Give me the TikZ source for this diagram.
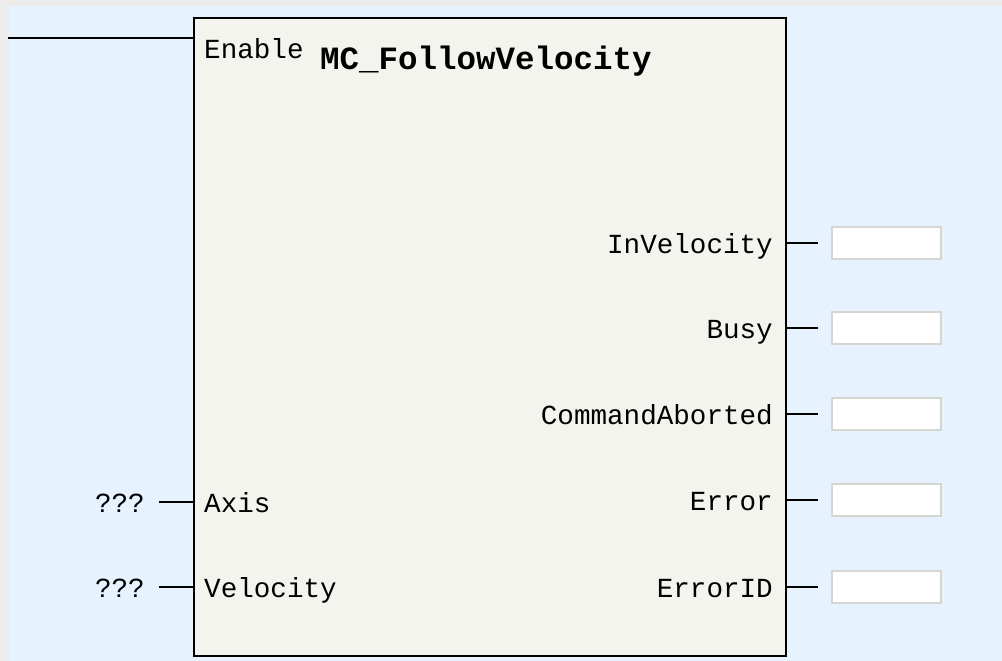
\documentclass[tikz,border=0pt]{standalone}
\usepackage{fontspec}
\setmonofont{Liberation Mono}
\usepackage{xcolor}
\usetikzlibrary{positioning}
\definecolor{panelblue}{RGB}{230,243,255}
\definecolor{blockfill}{RGB}{244,244,239}
\definecolor{framegray}{RGB}{236,236,236}
\definecolor{slotgray}{RGB}{214,214,208}

\begin{document}
\begin{tikzpicture}[x=1pt,y=-1pt,
  pinlabel/.style={font=\ttfamily\fontsize{27.6}{30}\selectfont,inner sep=0pt,text height=20pt,text depth=0pt},
  slot/.style={draw=slotgray,fill=white,line width=1.5pt,minimum width=109pt,minimum height=32pt,inner sep=0pt},
  wire/.style={line width=2pt}]
  \useasboundingbox (0,0) rectangle (1002,661);
  % panel
  \fill[framegray] (0,0) rectangle (1002,661);
  \fill[panelblue] (9,6) rectangle (1002,661);
  % function block
  \node[draw,line width=2.4pt,fill=blockfill,minimum width=592pt,minimum height=638pt,inner sep=0pt,anchor=north west] (fb) at (193,17) {};
  \node[font=\ttfamily\bfseries\fontsize{32.5}{34}\selectfont,anchor=base west,inner sep=0pt] (title) at (320,70) {MC\_FollowVelocity};
  % enable rail
  \node[pinlabel,anchor=north west] (en) at (204,38) {Enable};
  \coordinate (rail) at (8,38);
  \draw[wire] (rail) -- (fb.west |- rail);
  % inputs
  \foreach \name/\y [count=\i] in {Axis/502,Velocity/587} {
    \node[pinlabel,anchor=west] (in\i) at (204,\y) {\name};
    \node[pinlabel,anchor=east] (q\i) at (145,\y) {???};
    \draw[wire] ([xshift=14pt]q\i.east) -- (fb.west |- in\i.west);
  }
  % outputs
  \foreach \name/\y [count=\i] in {InVelocity/243,Busy/328,CommandAborted/414,Error/500,ErrorID/587} {
    \node[pinlabel,anchor=east] (out\i) at (773,\y) {\name};
    \node[slot,anchor=west] (val\i) at (831,\y) {};
    \draw[wire] (fb.east |- out\i.east) -- ([xshift=-13pt]val\i.west);
  }
\end{tikzpicture}
\end{document}
